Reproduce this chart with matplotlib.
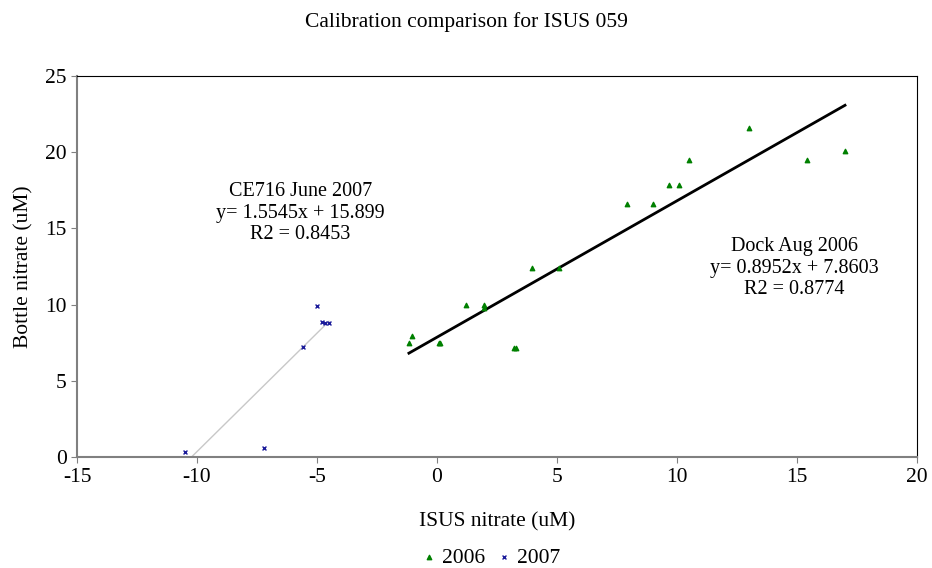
import matplotlib.pyplot as plt
import numpy as np

plt.rcParams['font.family'] = ['Liberation Serif', 'DejaVu Serif']
plt.rcParams['axes.unicode_minus'] = False

# --- data ---
x2006 = [-1.17, -1.03, 0.08, 0.14, 1.2, 1.94, 1.97, 3.2, 3.3, 3.94, 5.1,
         7.9, 9.0, 9.65, 10.1, 10.5, 13.0, 15.4, 17.0]
y2006 = [7.48, 7.94, 7.48, 7.5, 10.0, 10.0, 9.8, 7.15, 7.15, 12.4, 12.4,
         16.6, 16.6, 17.85, 17.85, 19.5, 21.6, 19.5, 20.1]
x2007 = [-5.0, -4.8, -4.65, -4.5, -5.6, -10.5, -7.2]
y2007 = [9.9, 8.85, 8.8, 8.8, 7.2, 0.33, 0.6]

fit2006 = (0.8952, 7.8603)
fit2007 = (1.5545, 15.899)

fig = plt.figure(figsize=(9.32, 5.68), dpi=100)
ax = fig.add_axes([77/932, 1 - 457/568, 840/932, 381/568])

ax.scatter(x2006, y2006, marker='^', s=10, color='#008000', label='2006', zorder=3)
ax.scatter(x2007, y2007, marker='x', s=8, linewidths=1, color='#1a1a9a', label='2007', zorder=3)

# trendlines
xs = np.array([min(x2006), max(x2006)])
ax.plot(xs, fit2006[0] * xs + fit2006[1], color='black', lw=2, zorder=2)
xs = np.array([-fit2007[1] / fit2007[0], max(x2007)])
ax.plot(xs, fit2007[0] * xs + fit2007[1], color='#c8c8c8', lw=1, zorder=2)

ax.set_xlim(-15, 20)
ax.set_ylim(0, 25)
ax.set_xticks(range(-15, 21, 5))
ax.set_yticks(range(0, 26, 5))
ax.tick_params(labelsize=15.5, direction='out', length=4, color='#808080')
ax.tick_params(axis='x', pad=4)
for s in ['top', 'right']:
    ax.spines[s].set_color('black')
    ax.spines[s].set_linewidth(0.8)
for s in ['bottom', 'left']:
    ax.spines[s].set_color('#808080')
    ax.spines[s].set_linewidth(1.5)

ax.set_xlabel('ISUS nitrate (uM)', fontsize=15.5, labelpad=18)
ax.set_ylabel('Bottle nitrate (uM)', fontsize=15.5, labelpad=8)
fig.suptitle('Calibration comparison for ISUS 059', fontsize=15.5, y=0.978)

ax.text(-5.7, 16.0, 'CE716 June 2007\ny= 1.5545x + 15.899\nR2 = 0.8453',
        ha='center', va='center', fontsize=14.5, linespacing=1.2)
ax.text(14.9, 12.4, 'Dock Aug 2006\ny= 0.8952x + 7.8603\nR2 = 0.8774',
        ha='center', va='center', fontsize=14.5, linespacing=1.2)

fig.legend(loc='center', bbox_to_anchor=(0.527, 0.018), ncol=2, frameon=False,
           fontsize=15.5, handlelength=0.6, handletextpad=0.3, columnspacing=0.6,
           markerscale=1.0)

fig.savefig('out.png', dpi=100)
